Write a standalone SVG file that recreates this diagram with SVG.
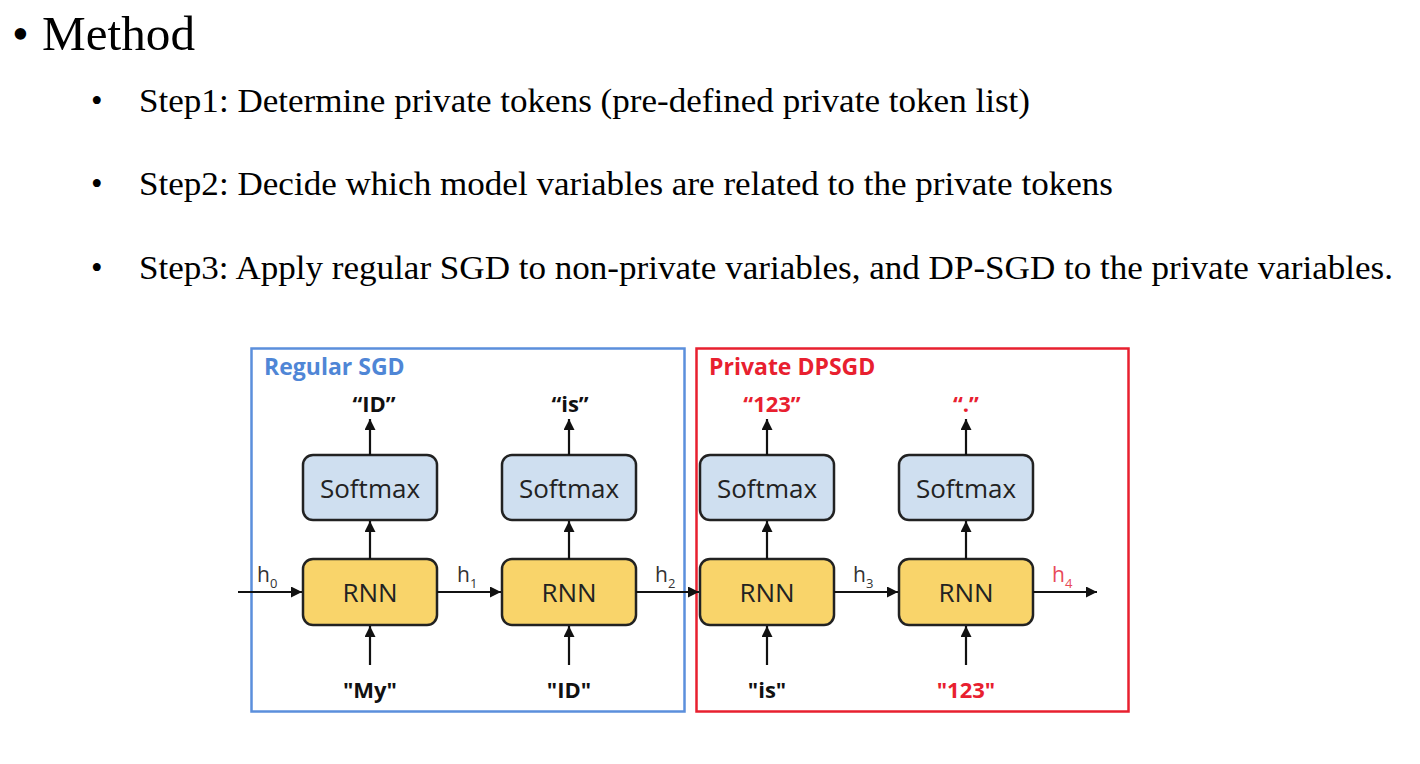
<svg xmlns="http://www.w3.org/2000/svg" width="1420" height="764" viewBox="0 0 1420 764">
<defs>
<marker id="ah" viewBox="0 0 10 10" refX="10" refY="5" markerWidth="12" markerHeight="11" markerUnits="userSpaceOnUse" orient="auto"><path d="M0,0 L10,5 L0,10 z" fill="#111"/></marker>
<style>
.tm{font-family:"Liberation Serif","Times New Roman",serif;fill:#000}
.sans{font-family:"Open Sans","Noto Sans",sans-serif}
.box{stroke:#222;stroke-width:2.5}
.sm{fill:#cfdff0}
.rnn{fill:#f9d46a}
.lbl{font-size:26px;fill:#222;text-anchor:middle}
.tok{font-size:22px;font-weight:bold;text-anchor:middle;fill:#111}
.red{fill:#e8202f}
.h{font-size:21px;fill:#333}
.h4{fill:#e84a5a}
.sub{font-size:13px}
.c{stroke:#111;stroke-width:2.2;fill:none;marker-end:url(#ah)}
</style>
</defs>
<rect width="1420" height="764" fill="#fff"/>
<g id="text">
<text class="tm" x="12" y="50" font-size="48">•</text>
<text class="tm" x="42" y="50" font-size="48" textLength="153" lengthAdjust="spacingAndGlyphs">Method</text>
<text class="tm" x="91" y="112" font-size="33">•</text>
<text class="tm" x="139" y="112" font-size="33" textLength="891" lengthAdjust="spacingAndGlyphs">Step1: Determine private tokens (pre-defined private token list)</text>
<text class="tm" x="91" y="195" font-size="33">•</text>
<text class="tm" x="139" y="195" font-size="33" textLength="974" lengthAdjust="spacingAndGlyphs">Step2: Decide which model variables are related to the private tokens</text>
<text class="tm" x="91" y="279" font-size="33">•</text>
<text class="tm" x="139" y="279" font-size="33" textLength="1254" lengthAdjust="spacingAndGlyphs">Step3: Apply regular SGD to non-private variables, and DP-SGD to the private variables.</text>
</g>
<g id="regular-sgd">
<rect x="251.5" y="348.5" width="433" height="363" fill="none" stroke="#5b8fdc" stroke-width="2.5"/>
<text class="sans" x="264" y="375" font-size="23" font-weight="bold" fill="#4f86d6">Regular SGD</text>
</g>
<g id="private-dpsgd">
<rect x="696.5" y="348.5" width="432" height="363" fill="none" stroke="#e8202f" stroke-width="2.5"/>
<text class="sans" x="709" y="375" font-size="23" font-weight="bold" fill="#e8202f">Private DPSGD</text>
</g>
<g id="softmax1"><rect class="box sm" x="303" y="455" width="134" height="65" rx="10"/><text class="sans lbl" x="370" y="498">Softmax</text></g>
<g id="softmax2"><rect class="box sm" x="502" y="455" width="134" height="65" rx="10"/><text class="sans lbl" x="569" y="498">Softmax</text></g>
<g id="softmax3"><rect class="box sm" x="700" y="455" width="134" height="65" rx="10"/><text class="sans lbl" x="767" y="498">Softmax</text></g>
<g id="softmax4"><rect class="box sm" x="899" y="455" width="134" height="65" rx="10"/><text class="sans lbl" x="966" y="498">Softmax</text></g>
<g id="rnn1"><rect class="box rnn" x="303" y="559" width="134" height="66" rx="10"/><text class="sans lbl" x="370" y="602">RNN</text></g>
<g id="rnn2"><rect class="box rnn" x="502" y="559" width="134" height="66" rx="10"/><text class="sans lbl" x="569" y="602">RNN</text></g>
<g id="rnn3"><rect class="box rnn" x="700" y="559" width="134" height="66" rx="10"/><text class="sans lbl" x="767" y="602">RNN</text></g>
<g id="rnn4"><rect class="box rnn" x="899" y="559" width="134" height="66" rx="10"/><text class="sans lbl" x="966" y="602">RNN</text></g>
<g id="tokens">
<text class="sans tok" x="374" y="412">“ID”</text>
<text class="sans tok" x="570" y="412">“is”</text>
<text class="sans tok red" x="772" y="412">“123”</text>
<text class="sans tok red" x="966" y="412">“.”</text>
<text class="sans tok" x="370" y="698">"My"</text>
<text class="sans tok" x="569" y="698">"ID"</text>
<text class="sans tok" x="767" y="698">"is"</text>
<text class="sans tok red" x="966" y="698">"123"</text>
</g>
<g id="hidden-labels">
<text class="sans h" x="257" y="582">h<tspan class="sub" dy="6">0</tspan></text>
<text class="sans h" x="457" y="582">h<tspan class="sub" dy="6">1</tspan></text>
<text class="sans h" x="655" y="582">h<tspan class="sub" dy="6">2</tspan></text>
<text class="sans h" x="853" y="582">h<tspan class="sub" dy="6">3</tspan></text>
<text class="sans h h4" x="1052" y="582">h<tspan class="sub" dy="6">4</tspan></text>
</g>
<g id="connectors">
<line class="c" x1="370" y1="455" x2="370" y2="419"/>
<line class="c" x1="569" y1="455" x2="569" y2="419"/>
<line class="c" x1="767" y1="455" x2="767" y2="419"/>
<line class="c" x1="966" y1="455" x2="966" y2="419"/>
<line class="c" x1="370" y1="559" x2="370" y2="521"/>
<line class="c" x1="569" y1="559" x2="569" y2="521"/>
<line class="c" x1="767" y1="559" x2="767" y2="521"/>
<line class="c" x1="966" y1="559" x2="966" y2="521"/>
<line class="c" x1="370" y1="665" x2="370" y2="626"/>
<line class="c" x1="569" y1="665" x2="569" y2="626"/>
<line class="c" x1="767" y1="665" x2="767" y2="626"/>
<line class="c" x1="966" y1="665" x2="966" y2="626"/>
<line class="c" x1="238" y1="592" x2="302" y2="592"/>
<line class="c" x1="437" y1="592" x2="501" y2="592"/>
<line class="c" x1="636" y1="592" x2="699" y2="592"/>
<line class="c" x1="834" y1="592" x2="898" y2="592"/>
<line class="c" x1="1033" y1="592" x2="1097" y2="592"/>
</g>
</svg>
